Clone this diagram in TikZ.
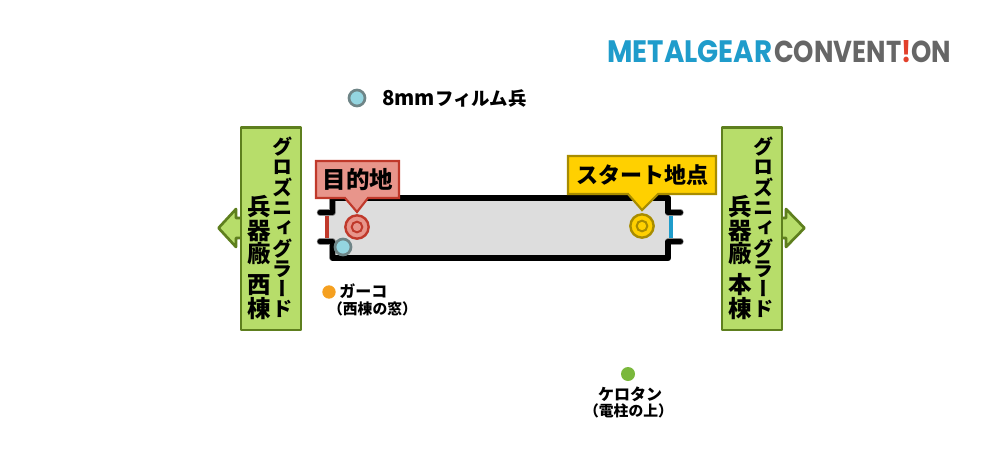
\documentclass[tikz,border=0pt]{standalone}
\usepackage{fontspec}
\setmainfont{Liberation Sans}
\newfontfamily\jp{Noto Sans CJK JP}
\newfontfamily\vjp{Noto Sans CJK JP}[RawFeature=+vert]
\newfontfamily\logofont{Poppins}
\definecolor{panelfill}{HTML}{B7DD6A}
\definecolor{paneledge}{HTML}{5E7F1E}
\definecolor{redfill}{HTML}{E8958B}
\definecolor{rededge}{HTML}{C0392B}
\definecolor{yelfill}{HTML}{FFD000}
\definecolor{yeledge}{HTML}{A88C00}
\definecolor{roomfill}{HTML}{DDDDDD}
\definecolor{logoblue}{HTML}{1F9CCB}
\definecolor{logogray}{HTML}{666666}
\definecolor{logored}{HTML}{E2402B}
\definecolor{doorblue}{HTML}{1F9CCB}
\definecolor{bluefill}{HTML}{94D5E0}
\definecolor{bluegray}{HTML}{6F8587}
\definecolor{orangedotc}{HTML}{F5A020}
\definecolor{greendotc}{HTML}{7AB83C}
\newcommand{\px}[1]{\fontsize{\dimexpr#1pt*3/4\relax}{\dimexpr#1pt*3/4\relax}\selectfont}
\tikzset{
  x=0.75pt,y=-0.75pt,
  wallhalo/.style={draw=black!45,line width=4.8pt,line cap=round,line join=round},
  wall/.style={draw=black,line width=3.8pt,line cap=round,line join=round},
  panel/.style={fill=panelfill,draw=paneledge,line width=2pt,line join=round},
  redshape/.style={fill=redfill,draw=rededge,line width=1.6pt,line join=miter},
  yelshape/.style={fill=yelfill,draw=yeledge,line width=1.6pt,line join=miter},
  vsmall/.style={inner sep=0pt,align=center,font={\vjp\bfseries\px{20.3}}},
  vlarge/.style={inner sep=0pt,align=center,font={\vjp\bfseries\px{23.5}}},
  jtext/.style={inner sep=0pt,font=\jp\bfseries},
  logotext/.style={inner sep=0pt,anchor=west},
}
\begin{document}
\begin{tikzpicture}
\useasboundingbox (0,0) rectangle (1000,450);
% logo
\node[logotext] (logoa) at (607,52) {\resizebox{123.7pt}{16.5pt}{\logofont\bfseries\textcolor{logoblue}{METALGEAR}}};
\node[logotext] (logob) at (774,52) {\resizebox{132.7pt}{16.5pt}{\logofont\bfseries\textcolor{logogray}{CONVENT}\textcolor{logored}{!}\textcolor{logogray}{ON}}};
% legend
\node[circle,fill=bluefill,draw=bluegray,line width=2pt,minimum size=12pt,inner sep=0pt] (legenddot) at (357,98) {};
\node[jtext,anchor=west] (legendtext) at (382,98) {{\bfseries\px{20.5}8mm}{\px{18.4}フィルム兵}};
% room
\fill[roomfill] (332,198) -- (668,198) -- (668,212) -- (671,212) -- (671,242) -- (668,242) -- (668,258) -- (332,258) -- (332,242) -- (327,242) -- (327,212) -- (332,212) -- cycle;
\draw[rededge,line width=3pt] (327,213) -- (327,241);
\draw[doorblue,line width=3pt] (671,213) -- (671,241);
\draw[wallhalo] (320,212.5) -- (332.5,212.5) -- (332.5,198) -- (668,198) -- (668,212.5) -- (680.5,212.5);
\draw[wallhalo] (320,241.5) -- (332.5,241.5) -- (332.5,258) -- (668,258) -- (668,241.5) -- (680.5,241.5);
\draw[wall] (320,212.5) -- (332.5,212.5) -- (332.5,198) -- (668,198) -- (668,212.5) -- (680.5,212.5);
\draw[wall] (320,241.5) -- (332.5,241.5) -- (332.5,258) -- (668,258) -- (668,241.5) -- (680.5,241.5);
% left panel
\draw[panel] (240,218) -- (236,218) -- (236,209) -- (218.5,228) -- (236,247) -- (236,238) -- (240,238);
\draw[panel] (241,127.5) rectangle (301,330);
\node[vsmall] (l1) at (283,227.5) {グ\\ロ\\ズ\\ニ\\ィ\\グ\\ラ\\ー\\ド};
\node[vlarge] (l2) at (259,257.5) {兵\\器\\廠\\[5.5pt]西\\棟};
% right panel
\draw[panel] (782,218) -- (786,218) -- (786,209) -- (804.5,228) -- (786,247) -- (786,238) -- (782,238);
\draw[panel] (722,127.5) rectangle (782,330);
\node[vsmall] (r1) at (764,227.5) {グ\\ロ\\ズ\\ニ\\ィ\\グ\\ラ\\ー\\ド};
\node[vlarge] (r2) at (740,257.5) {兵\\器\\廠\\[5.5pt]本\\棟};
% goal
\draw[redshape] (316,161) -- (399,161) -- (399,198) -- (368,198) -- (357,212) -- (345,198) -- (316,198) -- cycle;
\node[jtext] (goal) at (358,180) {\px{23.5}目的地};
\node[circle,fill=redfill,draw=rededge,line width=1.8pt,minimum size=17.5pt,inner sep=0pt] (goalout) at (357,227) {};
\node[circle,draw=rededge,line width=1.5pt,minimum size=8pt,inner sep=0pt] (goalin) at (357,227) {};
% start
\draw[yelshape] (568,156) -- (716,156) -- (716,194) -- (658,194) -- (642,210) -- (628,194) -- (568,194) -- cycle;
\node[jtext] (start) at (642.5,175.5) {\px{22}スタート地点};
\node[circle,fill=yelfill,draw=yeledge,line width=1.8pt,minimum size=17.5pt,inner sep=0pt] (startout) at (642,226) {};
\node[circle,draw=yeledge,line width=1.5pt,minimum size=8pt,inner sep=0pt] (startin) at (642,226) {};
% soldier on window
\node[circle,fill=bluefill,draw=bluegray,line width=2pt,minimum size=12pt,inner sep=0pt] (bluedot) at (343,247) {};
% gako
\node[circle,fill=orangedotc,minimum size=10pt,inner sep=0pt] (orangedot) at (329,292) {};
\node[jtext,anchor=west] (gako) at (339,291) {\px{16}ガーコ};
\node[jtext] (gako2) at (372.5,309) {\px{14.8}（西棟の窓）};
% kerotan
\node[circle,fill=greendotc,minimum size=10.5pt,inner sep=0pt] (greendot) at (628,374) {};
\node[jtext] (kero) at (630,394) {\px{16}ケロタン};
\node[jtext] (kero2) at (628.5,411) {\px{14.8}（電柱の上）};
\end{tikzpicture}
\end{document}
